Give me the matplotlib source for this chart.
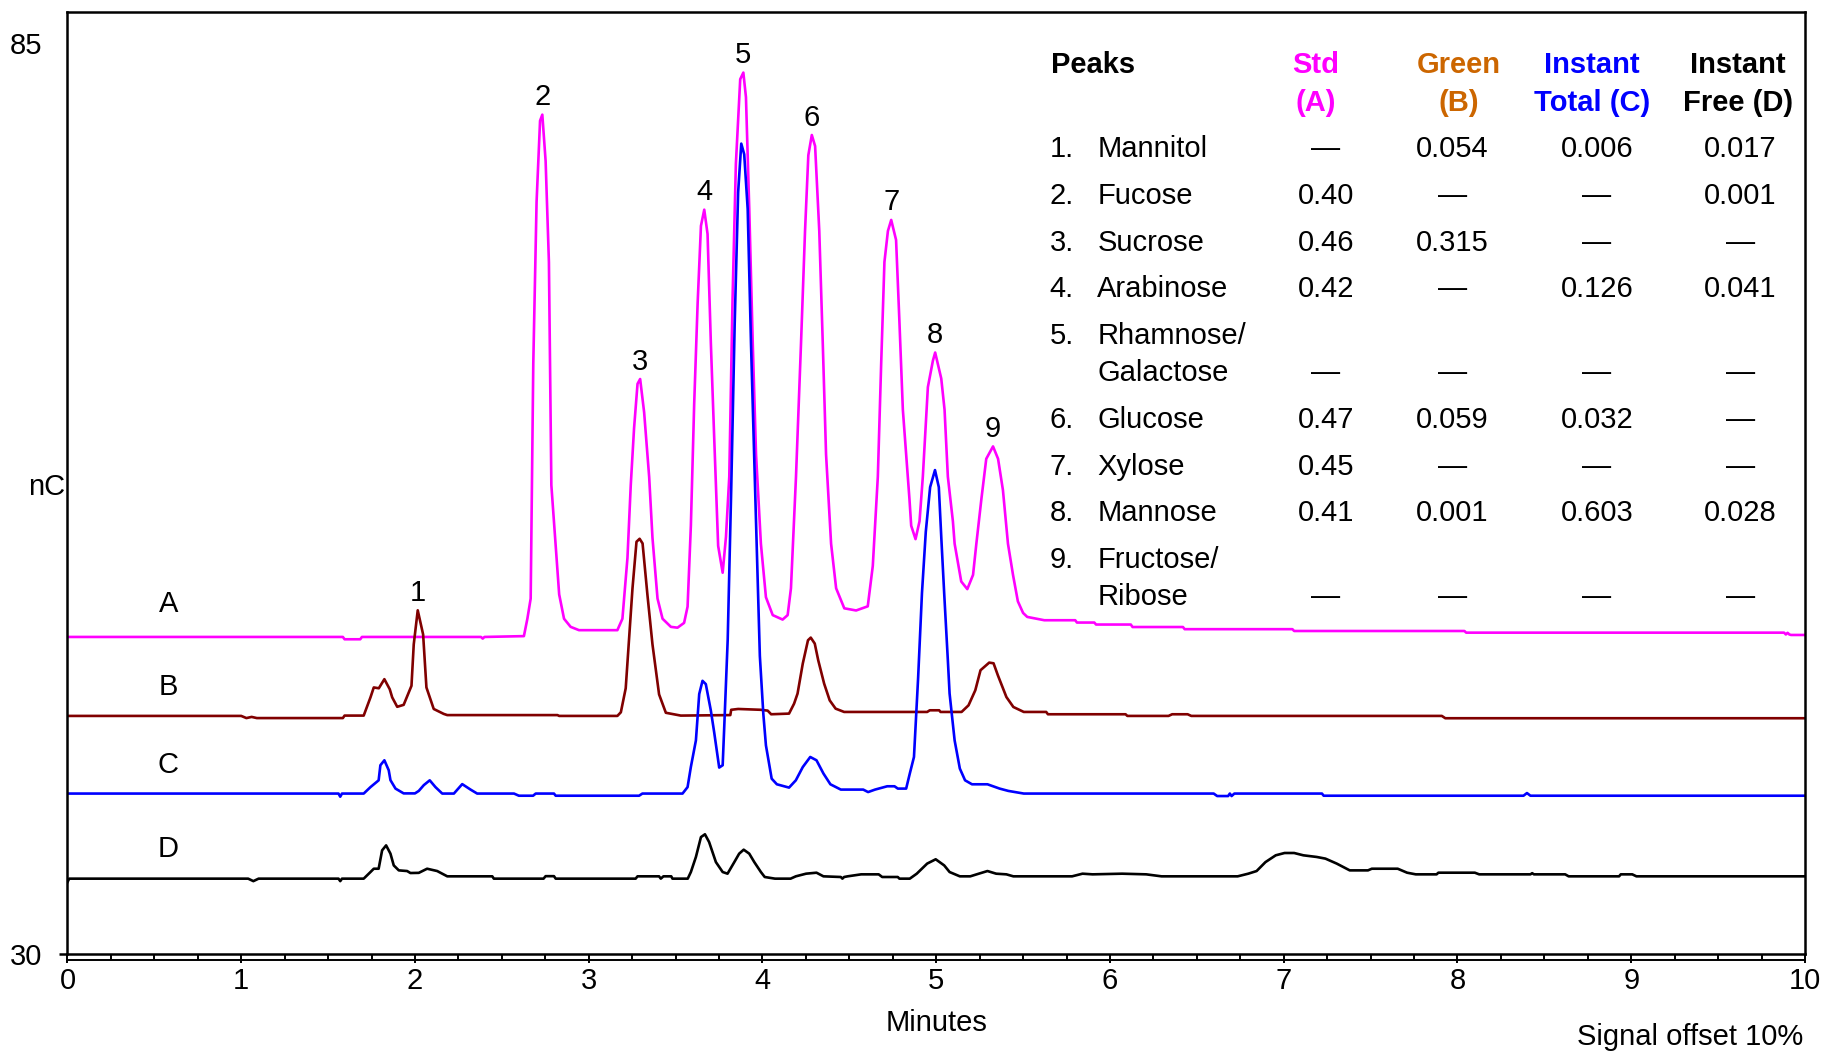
import numpy as np
import matplotlib
matplotlib.use("Agg")
import matplotlib.pyplot as plt
import matplotlib.font_manager as fm
from matplotlib.transforms import offset_copy

# --- chromatogram traces (minutes, nC) ---
a_time = [0.0, 1.585, 1.595, 1.685, 1.695, 2.38, 2.39, 2.40, 2.627, 2.647, 2.666, 2.681, 2.700, 2.720,
          2.733, 2.752, 2.771, 2.785, 2.810, 2.830, 2.858, 2.896, 2.944, 3.165, 3.194, 3.223, 3.242,
          3.261, 3.281, 3.296, 3.319, 3.348, 3.367, 3.396, 3.425, 3.473, 3.511, 3.549, 3.569, 3.588,
          3.607, 3.627, 3.646, 3.665, 3.684, 3.703, 3.722, 3.745, 3.771, 3.790, 3.809, 3.828, 3.847,
          3.872, 3.890, 3.905, 3.924, 3.944, 3.963, 3.991, 4.020, 4.059, 4.116, 4.145, 4.164, 4.193,
          4.222, 4.245, 4.264, 4.284, 4.303, 4.327, 4.347, 4.366, 4.395, 4.424, 4.471, 4.539, 4.606,
          4.635, 4.664, 4.683, 4.702, 4.722, 4.741, 4.769, 4.788, 4.808, 4.827, 4.846, 4.856, 4.881,
          4.904, 4.923, 4.952, 4.981, 4.994, 5.029, 5.048, 5.067, 5.096, 5.106, 5.144, 5.179, 5.212,
          5.231, 5.260, 5.288, 5.327, 5.356, 5.384, 5.413, 5.442, 5.470, 5.500, 5.524, 5.622, 5.80,
          5.81, 5.91, 5.92, 6.12, 6.13, 6.42, 6.43, 7.05, 7.06, 8.04, 8.05, 9.88, 9.89, 9.90, 9.91,
          9.92, 10.0]
a_signal = [49.15, 49.15, 49.01, 49.01, 49.15, 49.15, 49.05, 49.15, 49.2, 50.25, 51.47, 65.66, 75.44,
            80.33, 80.7, 77.9, 71.79, 58.32, 54.65, 51.72, 50.25, 49.76, 49.56, 49.56, 50.25, 53.92,
            58.32, 61.75, 64.44, 64.73, 62.72, 58.81, 55.14, 51.47, 50.25, 49.76, 49.71, 50.0, 50.98,
            55.88, 63.21, 69.33, 73.98, 74.96, 73.49, 66.9, 61.26, 54.65, 53.03, 55.2, 58.83, 69.62,
            77.72, 82.84, 83.24, 81.76, 75.0, 66.92, 60.18, 54.78, 51.55, 50.47, 50.2, 50.47, 52.09,
            58.83, 66.92, 73.67, 78.25, 79.47, 78.8, 73.67, 66.92, 60.18, 54.78, 52.09, 50.88, 50.75,
            51.0, 53.44, 58.83, 65.58, 71.8, 73.67, 74.34, 73.13, 68.27, 62.88, 60.18, 57.48, 55.87,
            55.06, 56.14, 58.83, 64.24, 65.84, 66.33, 64.76, 62.88, 58.83, 56.14, 54.78, 52.5, 52.04,
            52.9, 54.78, 57.48, 59.91, 60.66, 59.91, 58.02, 54.78, 52.9, 51.3, 50.6, 50.36, 50.16,
            50.16, 50.02, 50.02, 49.9, 49.9, 49.75, 49.75, 49.62, 49.62, 49.51, 49.51, 49.41, 49.41,
            49.3, 49.4, 49.3, 49.27, 49.27]

b_time = [0.0, 1.00, 1.03, 1.06, 1.09, 1.585, 1.595, 1.705, 1.744, 1.763, 1.792, 1.824, 1.855, 1.869,
          1.898, 1.935, 1.980, 1.993, 2.016, 2.047, 2.066, 2.108, 2.166, 2.186, 2.82, 2.83, 3.165,
          3.185, 3.213, 3.252, 3.275, 3.293, 3.310, 3.338, 3.367, 3.405, 3.444, 3.530, 3.815, 3.82,
          3.86, 3.99, 4.03, 4.05, 4.153, 4.182, 4.202, 4.232, 4.262, 4.278, 4.301, 4.321, 4.355,
          4.387, 4.421, 4.470, 4.948, 4.963, 5.017, 5.025, 5.146, 5.186, 5.225, 5.255, 5.305, 5.330,
          5.355, 5.404, 5.444, 5.504, 5.633, 5.643, 6.09, 6.10, 6.337, 6.358, 6.447, 6.468, 7.91,
          7.93, 10.0]
b_signal = [44.38, 44.38, 44.25, 44.32, 44.25, 44.25, 44.4, 44.4, 45.5, 46.1, 46.05, 46.6, 45.99, 45.5,
            44.93, 45.05, 46.2, 48.7, 50.76, 49.3, 46.1, 44.8, 44.5, 44.43, 44.43, 44.38, 44.38, 44.6,
            46.05, 52.09, 54.9, 55.08, 54.8, 51.69, 48.7, 45.68, 44.57, 44.40, 44.43, 44.75, 44.8,
            44.75, 44.7, 44.48, 44.52, 45.12, 45.73, 47.54, 48.95, 49.11, 48.75, 47.74, 46.33, 45.32,
            44.82, 44.62, 44.62, 44.72, 44.72, 44.62, 44.62, 45.02, 45.93, 47.14, 47.6, 47.56, 46.83,
            45.52, 44.92, 44.62, 44.62, 44.48, 44.48, 44.38, 44.38, 44.48, 44.48, 44.38, 44.38, 44.24,
            44.24]

c_time = [0.0, 1.56, 1.57, 1.58, 1.705, 1.744, 1.791, 1.801, 1.824, 1.849, 1.859, 1.888, 1.935, 2.000,
          2.022, 2.051, 2.085, 2.118, 2.157, 2.224, 2.272, 2.320, 2.358, 2.570, 2.598, 2.680, 2.695,
          2.800, 2.810, 3.290, 3.309, 3.540, 3.569, 3.588, 3.617, 3.636, 3.655, 3.674, 3.703, 3.722,
          3.751, 3.771, 3.780, 3.800, 3.820, 3.840, 3.860, 3.878, 3.895, 3.915, 3.934, 3.963, 3.985,
          4.005, 4.020, 4.053, 4.083, 4.153, 4.192, 4.232, 4.275, 4.311, 4.351, 4.391, 4.451, 4.58,
          4.608, 4.648, 4.718, 4.760, 4.779, 4.827, 4.848, 4.872, 4.896, 4.918, 4.940, 4.965, 4.993,
          5.015, 5.030, 5.046, 5.067, 5.077, 5.106, 5.136, 5.166, 5.206, 5.295, 5.365, 5.415, 5.504,
          6.597, 6.617, 6.680, 6.690, 6.700, 6.716, 7.22, 7.23, 8.38, 8.40, 8.42, 10.0]
c_signal = [39.69, 39.69, 39.5, 39.69, 39.69, 40.08, 40.49, 41.4, 41.7, 41.1, 40.5, 39.99, 39.7, 39.7,
            39.85, 40.2, 40.49, 40.08, 39.69, 39.69, 40.26, 39.93, 39.69, 39.69, 39.56, 39.56, 39.69,
            39.69, 39.56, 39.56, 39.69, 39.69, 40.08, 41.3, 42.9, 45.7, 46.5, 46.3, 44.7, 43.4, 41.26,
            41.4, 43.7, 49.0, 58.0, 68.0, 76.0, 78.95, 78.3, 75.0, 66.9, 56.1, 48.0, 44.5, 42.6, 40.59,
            40.25, 40.05, 40.49, 41.29, 41.9, 41.7, 40.9, 40.25, 39.93, 39.93, 39.78, 39.93, 40.13,
            40.13, 39.99, 39.99, 40.9, 41.9, 46.7, 51.8, 55.5, 58.2, 59.23, 58.2, 55.0, 51.77, 47.74,
            45.73, 42.9, 41.2, 40.49, 40.25, 40.25, 39.99, 39.85, 39.69, 39.69, 39.54, 39.54, 39.69,
            39.54, 39.69, 39.69, 39.56, 39.56, 39.72, 39.56, 39.56]

d_time = [0.0, 0.01, 1.04, 1.07, 1.10, 1.56, 1.57, 1.58, 1.705, 1.744, 1.763, 1.791, 1.811, 1.834,
          1.859, 1.878, 1.907, 1.955, 1.974, 2.022, 2.070, 2.128, 2.186, 2.445, 2.454, 2.740, 2.752,
          2.800, 2.810, 3.270, 3.281, 3.405, 3.415, 3.430, 3.475, 3.482, 3.570, 3.588, 3.617, 3.646,
          3.669, 3.693, 3.732, 3.771, 3.799, 3.838, 3.866, 3.892, 3.924, 3.953, 3.991, 4.013, 4.072,
          4.162, 4.192, 4.251, 4.311, 4.351, 4.451, 4.46, 4.47, 4.49, 4.568, 4.669, 4.689, 4.779,
          4.788, 4.848, 4.888, 4.948, 4.997, 5.046, 5.077, 5.136, 5.196, 5.245, 5.295, 5.345, 5.404,
          5.444, 5.782, 5.842, 5.90, 6.07, 6.209, 6.297, 6.735, 6.796, 6.844, 6.895, 6.954, 7.005,
          7.06, 7.113, 7.19, 7.24, 7.305, 7.38, 7.485, 7.507, 7.656, 7.71, 7.76, 7.88, 7.89, 8.10,
          8.125, 8.42, 8.43, 8.44, 8.62, 8.64, 8.93, 8.94, 9.006, 9.03, 10.0]
d_signal = [34.34, 34.55, 34.55, 34.4, 34.55, 34.55, 34.4, 34.55, 34.55, 34.95, 35.15, 35.15, 36.26,
            36.56, 36.06, 35.35, 35.05, 35.01, 34.89, 34.9, 35.15, 35.01, 34.69, 34.69, 34.55, 34.55,
            34.7, 34.7, 34.55, 34.55, 34.69, 34.69, 34.55, 34.69, 34.69, 34.55, 34.55, 34.95, 35.86,
            37.06, 37.23, 36.76, 35.55, 34.95, 34.85, 35.55, 36.06, 36.3, 36.06, 35.55, 34.95, 34.65,
            34.55, 34.55, 34.69, 34.85, 34.91, 34.69, 34.65, 34.55, 34.65, 34.69, 34.81, 34.81, 34.65,
            34.65, 34.55, 34.55, 34.85, 35.46, 35.72, 35.35, 34.95, 34.69, 34.69, 34.85, 35.01, 34.85,
            34.81, 34.69, 34.69, 34.85, 34.81, 34.85, 34.81, 34.69, 34.69, 34.85, 35.01, 35.55, 35.96,
            36.1, 36.1, 35.96, 35.86, 35.76, 35.46, 35.05, 35.05, 35.15, 35.15, 34.91, 34.81, 34.81,
            34.91, 34.91, 34.81, 34.81, 34.88, 34.81, 34.81, 34.69, 34.69, 34.81, 34.81, 34.69, 34.69]

trace_names = ["A", "B", "C", "D"]

# peak numbers, their retention times and the trace they are labelled on
peak_numbers = ["1", "2", "3", "4", "5", "6", "7", "8", "9"]
peak_times = [2.016, 2.733, 3.296, 3.665, 3.890, 4.284, 4.741, 4.994, 5.327]
peak_on = ["B", "A", "A", "A", "A", "A", "A", "A", "A"]

# table
col_heads = [["Std", "(A)"], ["Green", "(B)"], ["Instant", "Total (C)"], ["Instant", "Free (D)"]]
row_names = [["Mannitol"], ["Fucose"], ["Sucrose"], ["Arabinose"], ["Rhamnose/", "Galactose"],
             ["Glucose"], ["Xylose"], ["Mannose"], ["Fructose/", "Ribose"]]
D = "\u2014"
std_vals = [D, "0.40", "0.46", "0.42", D, "0.47", "0.45", "0.41", D]
green_vals = ["0.054", D, "0.315", D, D, "0.059", D, "0.001", D]
total_vals = ["0.006", D, D, "0.126", D, "0.032", D, "0.603", D]
free_vals = ["0.017", "0.001", D, "0.041", D, D, D, "0.028", D]

# --- style ---
names = set(fm.get_font_names())
regular = "Liberation Sans"
narrow = "Liberation Sans Narrow" if "Liberation Sans Narrow" in names else "Liberation Sans"
plt.rcParams["font.family"] = [regular, "DejaVu Sans"]

colors = {"A": "#ff00ff", "B": "#800000", "C": "#0000ff", "D": "#000000"}
head_colors = ["#ff00ff", "#cc6600", "#0000ff", "#000000"]

fig = plt.figure(figsize=(18.28, 10.54), dpi=100)
ax = fig.add_axes([0.0369, 0.0949, 0.9505, 0.8937])

traces = {"A": (a_time, a_signal), "B": (b_time, b_signal),
          "C": (c_time, c_signal), "D": (d_time, d_signal)}
for k in trace_names:
    t, s = traces[k]
    ax.plot(t, s, color=colors[k], lw=1.9, solid_joinstyle="round")

ax.set_xlim(0, 10)
ax.set_ylim(30, 86.9)
for sp in ax.spines.values():
    sp.set_linewidth(1.8)

ax.set_xticks(range(0, 11))
ax.set_xticks(np.arange(0, 10.01, 0.25), minor=True)
ax.tick_params(axis="x", which="major", direction="out", length=6.5, width=1.4,
               labelsize=21, pad=3)
ax.tick_params(axis="x", which="minor", direction="out", length=4.3, width=1.4)
ax.set_yticks([30, 85])
ax.tick_params(axis="y", direction="out", length=6, width=1.8, labelsize=21, pad=12)
ax.yaxis.get_major_ticks()[1].tick1line.set_visible(False)

# second ruler line under the x axis
ruler = offset_copy(ax.get_xaxis_transform(), fig=fig, y=-4.3, units="points")
ax.plot([0, 10], [0, 0], color="black", lw=1.4, transform=ruler, clip_on=False)

ax.set_xlabel("Minutes", fontsize=21, labelpad=10)
fig.text(46.6 / 1828, 1 - 487 / 1054, "nC", fontsize=21, ha="center", va="center")
fig.text(1803 / 1828, 1 - 1037 / 1054, "Signal offset 10%", fontsize=21,
         family=narrow, ha="right", va="center")

# trace letters
letter_pos = {"A": 51.13, "B": 46.13, "C": 41.41, "D": 36.34}
for k in trace_names:
    ax.text(0.58, letter_pos[k], k, fontsize=21, ha="center", va="center")

# peak numbers
for num, t, k in zip(peak_numbers, peak_times, peak_on):
    tt, ss = traces[k]
    h = np.interp(t, tt, ss)
    ax.annotate(num, (t, h), xytext=(0, 2.5), textcoords="offset points",
                ha="center", va="bottom", fontsize=21)

# table
tfs = 21
ax.text(5.658, 83.67, "Peaks", fontsize=tfs, fontweight="bold", family=narrow,
        ha="left", va="center")
head_x = [7.184, 8.01, 8.776, 9.616]
for x, lines, c in zip(head_x, col_heads, head_colors):
    ax.text(x, 83.67, lines[0], fontsize=tfs, fontweight="bold", family=narrow,
            color=c, ha="center", va="center")
    ax.text(x, 81.42, lines[1], fontsize=tfs, fontweight="bold", family=narrow,
            color=c, ha="center", va="center")

val_x = [7.242, 7.97, 8.803, 9.627]
y = 78.6
for i, nm in enumerate(row_names):
    ax.text(5.652, y, f"{i + 1}.", fontsize=tfs, family=narrow, ha="left", va="center")
    ax.text(5.927, y, nm[0], fontsize=tfs, family=narrow, ha="left", va="center")
    if len(nm) > 1:
        y -= 2.254
        ax.text(5.927, y, nm[1], fontsize=tfs, family=narrow, ha="left", va="center")
    for x, vals in zip(val_x, [std_vals, green_vals, total_vals, free_vals]):
        ax.text(x, y, vals[i], fontsize=tfs, family=narrow, ha="center", va="center")
    y -= 2.817

fig.savefig("out.png", dpi=100)
